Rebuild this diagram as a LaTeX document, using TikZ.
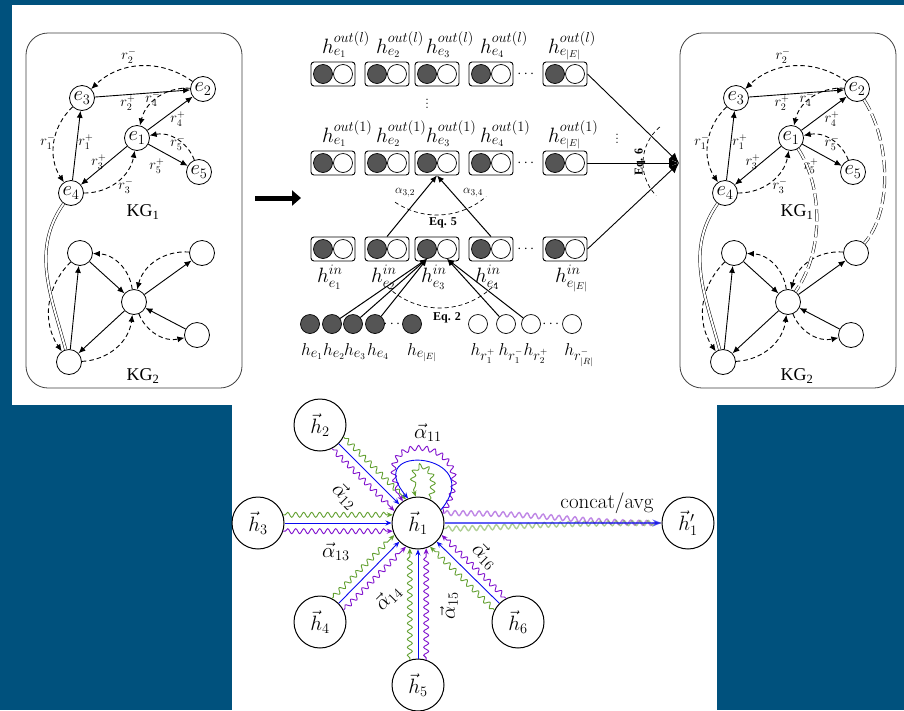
\documentclass[tikz,border=0pt]{standalone}
\usepackage{amsmath,amssymb}
\usepackage{fontspec}
\newfontfamily\timesfont{Liberation Serif}
\usetikzlibrary{arrows.meta,positioning,calc,decorations.pathmorphing}
\definecolor{slideblue}{RGB}{0,81,125}
\definecolor{cellgrey}{RGB}{85,85,85}

\begin{document}
\begin{tikzpicture}[x=1pt,y=1pt,>=Latex,
  ent/.style={circle,draw,line width=0.8pt,minimum size=25pt,inner sep=0pt,font=\fontsize{20}{20}\selectfont},
  rel/.style={-{Latex[length=7pt,width=6pt]},line width=0.9pt},
  inv/.style={rel,dash pattern=on 4.5pt off 3pt},
  rlab/.style={font=\fontsize{14}{14}\selectfont,inner sep=0pt},
  kglab/.style={font=\timesfont\fontsize{18}{18}\selectfont},
  cell/.style={draw,rounded corners=3pt,line width=0.9pt,minimum width=44pt,minimum height=24pt,inner sep=0pt},
  unit/.style={circle,draw,line width=0.7pt,minimum size=19pt,inner sep=0pt},
  hlab/.style={font=\fontsize{20}{20}\selectfont,inner sep=0pt},
  eqlab/.style={font=\timesfont\bfseries\fontsize{12}{12}\selectfont,inner sep=0pt},
  msg/.style={-{Latex[length=7pt,width=6pt]},line width=1pt},
  gnode/.style={circle,draw,line width=1pt,minimum size=52pt,inner sep=0pt,font=\fontsize{22}{22}\selectfont},
  alab/.style={font=\fontsize{22}{22}\selectfont,inner sep=0pt},
  att/.style={-{Stealth[length=6pt,width=5pt]},line width=0.9pt},
  wig/.style={decorate,decoration={snake,amplitude=2.5pt,segment length=8pt,pre length=2pt,post length=6pt}},
  align/.style={double,double distance=2pt,line width=0.5pt}]
\definecolor{attB}{RGB}{10,10,240}\definecolor{attG}{RGB}{98,160,48}\definecolor{attP}{RGB}{128,16,206}
\useasboundingbox (0,0) rectangle (904,-710);
\fill[slideblue] (0,0) rectangle (904,-710);
\fill[white] (12,-5) rectangle (904,-405);
\fill[white] (232,-405) rectangle (717,-710);
% the two knowledge graphs, before and after
\foreach \p/\dx in {L/0,R/654}{
\begin{scope}[shift={(\dx,0)}]
\draw[rounded corners=22pt,line width=0.8pt,black!75] (26,-33) rectangle (242,-388);
\node[ent] (\p e3) at (82,-98) {$e_3$};
\node[ent] (\p e2) at (203,-89) {$e_2$};
\node[ent] (\p e1) at (137,-138) {$e_1$};
\node[ent] (\p e5) at (199,-172) {$e_5$};
\node[ent] (\p e4) at (71,-193) {$e_4$};
\node[kglab] at (143,-212) {KG\textsubscript{1}};
\node[ent] (\p k1) at (80,-253) {};
\node[ent] (\p k2) at (202,-253) {};
\node[ent] (\p k3) at (134,-302) {};
\node[ent] (\p k4) at (197,-335) {};
\node[ent] (\p k5) at (69,-362) {};
\node[kglab] at (143,-376) {KG\textsubscript{2}};
\foreach \src/\dst in {e3/e2,e4/e3,e1/e4,e1/e2,e1/e5,k5/k1,k1/k3,k3/k5,k3/k2,k4/k3}{
  \draw[rel] (\p\src) -- (\p\dst);
  \draw[inv] (\p\dst) to[bend right=40] (\p\src);}
\draw[align] (\p e4) to[out=235,in=105] (\p k5);
\node[rlab] at (129,-56) {$r_2^-$};
\node[rlab] at (128,-103) {$r_2^+$};
\node[rlab] at (153,-99) {$r_4^-$};
\node[rlab] at (178,-119) {$r_4^+$};
\node[rlab] at (48,-142) {$r_1^-$};
\node[rlab] at (86,-142) {$r_1^+$};
\node[rlab] at (178,-143) {$r_5^-$};
\node[rlab] at (99,-162) {$r_3^+$};
\node[rlab] at (157,-166) {$r_5^+$};
\node[rlab] at (126,-186) {$r_3^-$};
\end{scope}}
% alignment links
\draw[align,dash pattern=on 12pt off 4pt] (Re2) .. controls (890,-140) and (893,-210) .. (Rk2);
\draw[align,dash pattern=on 12pt off 4pt] (Re1) .. controls (822,-185) and (825,-250) .. (Rk3);
\coordinate (go0) at (255,-198); \coordinate (go1) at (301,-198);
\draw[line width=5pt,-{Triangle[length=9pt,width=15pt]}] (go0) -- (go1);
% vector cells
\foreach \r/\y in {ol/-74,oa/-163,in/-249}{
  \foreach \i/\x in {1/333,2/387,3/437,4/491,5/565}{
    \node[cell] (\r\i) at (\x,\y) {};
    \node[unit,fill=cellgrey] (\r\i d) at (\x-10,\y) {};
    \node[unit] (\r\i w) at (\x+10,\y) {};}
  \node[font=\fontsize{14}{14}\selectfont] at (527,\y) {$\cdots$};}
\foreach \i/\x/\s/\sh in {1/333/e_1/11,2/387/e_2/11,3/437/e_3/11,4/491/e_4/11,5/565/e_{|E|}/17}{
  \node[hlab,anchor=base west] at (\x-\sh,-53) {$h^{out(l)}_{\s}$};
  \node[hlab,anchor=base west] at (\x-\sh,-142) {$h^{out(1)}_{\s}$};}
\foreach \i/\x/\s/\sh in {1/333/e_1/16,2/387/e_2/16,3/437/e_3/16,4/491/e_4/16,5/565/e_{|E|}/10}{
  \node[hlab,anchor=base west] at (\x-\sh,-282) {$h^{in}_{\s}$};}
\node[font=\fontsize{16}{16}\selectfont] at (427,-101) {$\vdots$};
\node[font=\fontsize{16}{16}\selectfont] at (617,-136) {$\vdots$};
% entity and relation embeddings
\foreach \i/\x/\s/\sh in {1/310/e_1/2,2/332/e_2/2,3/353/e_3/2,4/375/e_4/3,5/412/e_{|E|}/10}{
  \node[unit,fill=cellgrey] (f\i) at (\x,-324) {};
  \node[hlab,anchor=base,font=\fontsize{19}{19}\selectfont] at (\x+\sh,-355) {$h_{\s}$};}
\foreach \i/\x/\s/\sh in {1/478/r_1^+/5,2/506/r_1^-/5,3/531/r_2^+/5,4/572/r_{|R|}^-/7}{
  \node[unit] (q\i) at (\x,-324) {};
  \node[hlab,anchor=base,font=\fontsize{19}{19}\selectfont] at (\x+\sh,-355) {$h_{\s}$};}
\node[font=\fontsize{14}{14}\selectfont] at (393,-324) {$\cdots$};
\node[font=\fontsize{14}{14}\selectfont] at (552,-324) {$\cdots$};
\foreach \i in {2,3,4} \draw[msg] (f\i) -- (in3d.south);
\foreach \i in {2,3} \draw[msg] (q\i) -- (in3w.south);
\draw[dash pattern=on 4pt off 3pt,line width=0.7pt] (440,-232) ++(226:76) arc[start angle=226,end angle=318,radius=76];
\node[eqlab] at (447,-318) {Eq. 2};
% Eq. 5
\draw[msg] (in2.north) -- (oa3.south);
\draw[msg] (in4.north) -- (oa3.south);
\draw[dash pattern=on 4pt off 3pt,line width=0.7pt] (437,-140) ++(236:75) arc[start angle=236,end angle=311,radius=75];
\node[font=\fontsize{13}{13}\selectfont] at (405,-193) {$\alpha_{3,2}$};
\node[font=\fontsize{13}{13}\selectfont] at (473,-193) {$\alpha_{3,4}$};
\node[eqlab] at (443,-223) {Eq. 5};
% Eq. 6
\coordinate (agg) at (679,-163);
\foreach \r in {ol,oa,in} \draw[-{Latex[length=10pt,width=9pt]},line width=0.9pt] (\r5.east) -- (agg);
\draw[dash pattern=on 4pt off 3pt,line width=0.7pt] (690,-163) ++(130:47) arc[start angle=130,end angle=224,radius=47];
\node[eqlab,rotate=90] at (640,-162) {Eq. 6};
% attention over the neighbours of h1
\node[gnode] (h1) at (418,-523) {$\vec{h}_1$};
\node[gnode] (h2) at (320,-425) {$\vec{h}_2$};
\node[gnode] (h3) at (258,-523) {$\vec{h}_3$};
\node[gnode] (h4) at (320,-622) {$\vec{h}_4$};
\node[gnode] (h5) at (418,-685) {$\vec{h}_5$};
\node[gnode] (h6) at (518,-622) {$\vec{h}_6$};
\node[gnode] (h1p) at (688,-523) {$\vec{h}'_1$};
\foreach \k/\ang in {2/135,3/180,4/225,5/270,6/315}{
  \pgfmathtruncatemacro\bb{\ang+180}
  \pgfmathtruncatemacro\bg{\ang+198}
  \pgfmathtruncatemacro\bp{\ang+162}
  \pgfmathtruncatemacro\ag{\ang-18}
  \pgfmathtruncatemacro\ap{\ang+18}
  \draw[att,attB] (h\k.\bb) -- (h1.\ang);
  \draw[att,attG,wig] (h\k.\bg) -- (h1.\ag);
  \draw[att,attP,wig] (h\k.\bp) -- (h1.\ap);}
% self attention
\draw[att,attP,wig] (h1.22) .. controls +(58:90) and +(122:90) .. (h1.125);
\draw[att,attB] (h1.30) .. controls +(50:75) and +(130:75) .. (h1.112);
\draw[att,attG,wig] (h1.62) .. controls +(75:42) and +(110:42) .. (h1.95);
% heads merged into h1'
\draw[attP,wig,line width=1.4pt,opacity=0.5] (h1.22) .. controls +(110,0) and +(-90,0) .. (h1p.west);
\draw[attG,wig,line width=1.4pt,opacity=0.5] (h1.-12) .. controls +(60,0) and +(-140,0) .. (h1p.west);
\draw[-{Stealth[length=9pt,width=7pt]},attB,line width=1.6pt,opacity=0.65] (h1) -- (h1p);
\node[font=\fontsize{21}{21}\selectfont] (catlab) at (607,-503) {concat/avg};
\node[alab] at (428,-433) {$\vec{\alpha}_{11}$};
\node[alab,rotate=-45] at (345,-496) {$\vec{\alpha}_{12}$};
\node[alab] at (336,-552) {$\vec{\alpha}_{13}$};
\node[alab,rotate=45] at (388,-598) {$\vec{\alpha}_{14}$};
\node[alab,rotate=90] at (449,-606) {$\vec{\alpha}_{15}$};
\node[alab,rotate=-45] at (485,-556) {$\vec{\alpha}_{16}$};
\end{tikzpicture}
\end{document}
